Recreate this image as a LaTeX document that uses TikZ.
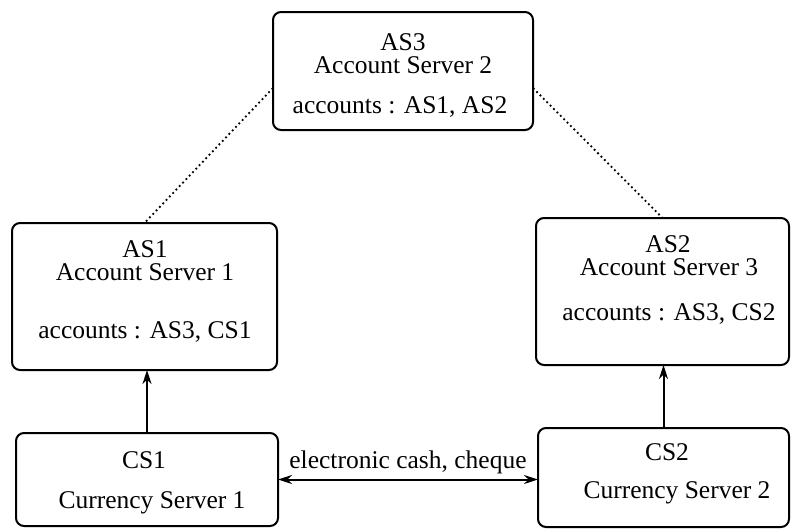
\documentclass[tikz,border=0pt]{standalone}
\usepackage{fontspec}
\newfontfamily\labelfont{Liberation Serif}
\usetikzlibrary{arrows.meta}
\begin{document}
\begin{tikzpicture}[x=1pt,y=-1pt,
  server/.style={draw, line width=2pt, rounded corners=8pt, inner sep=0pt, outer sep=0pt},
  txt/.style={anchor=base, inner sep=0pt, font=\labelfont\fontsize{25.5}{30}\selectfont},
  tip/.tip={Stealth[length=14pt,width=9pt]},
  link/.style={line width=2pt, -tip},
  peer/.style={line width=1.8pt, dash pattern=on 1.8pt off 3pt}]
\useasboundingbox (0,0) rectangle (791,530);

% server boxes
\node[server, minimum width=260pt, minimum height=118pt] (as3) at (403,71) {};
\node[server, minimum width=265pt, minimum height=147pt] (as1) at (144.5,296.5) {};
\node[server, minimum width=253pt, minimum height=147pt] (as2) at (662.5,291.5) {};
\node[server, minimum width=262pt, minimum height=93pt] (cs1) at (147,479.5) {};
\node[server, minimum width=251pt, minimum height=99pt] (cs2) at (663.5,477.5) {};

% labels
\node[txt] (as3a) at (403,50) {AS3};
\node[txt] (as3b) at (403,73) {Account Server 2};
\node[txt] (as3c) at (400,113) {accounts : AS1, AS2};

\node[txt] (as1a) at (145,257) {AS1};
\node[txt] (as1b) at (145,280) {Account Server 1};
\node[txt] (as1c) at (145,338) {accounts : AS3, CS1};

\node[txt] (as2a) at (668,252) {AS2};
\node[txt] (as2b) at (669,275) {Account Server 3};
\node[txt] (as2c) at (669,320) {accounts : AS3, CS2};

\node[txt] (cs1a) at (144,468) {CS1};
\node[txt] (cs1b) at (152,508) {Currency Server 1};

\node[txt] (cs2a) at (667,460) {CS2};
\node[txt] (cs2b) at (677,498) {Currency Server 2};

% connectors
\draw[peer] ([yshift=-17pt]as3.west) -- (as1.north);
\draw[peer] ([yshift=-17pt]as3.east) -- (as2.north);
\draw[link] (cs1.north) -- (cs1.north |- as1.south);
\draw[link] (cs2.north) -- (cs2.north |- as2.south);
\draw[link, tip-tip] (cs1.east) -- (cs1.east -| cs2.west)
  node[midway, above=5pt, inner sep=0pt, font=\labelfont\fontsize{25.5}{30}\selectfont] (cash) {electronic cash, cheque};
\end{tikzpicture}
\end{document}
